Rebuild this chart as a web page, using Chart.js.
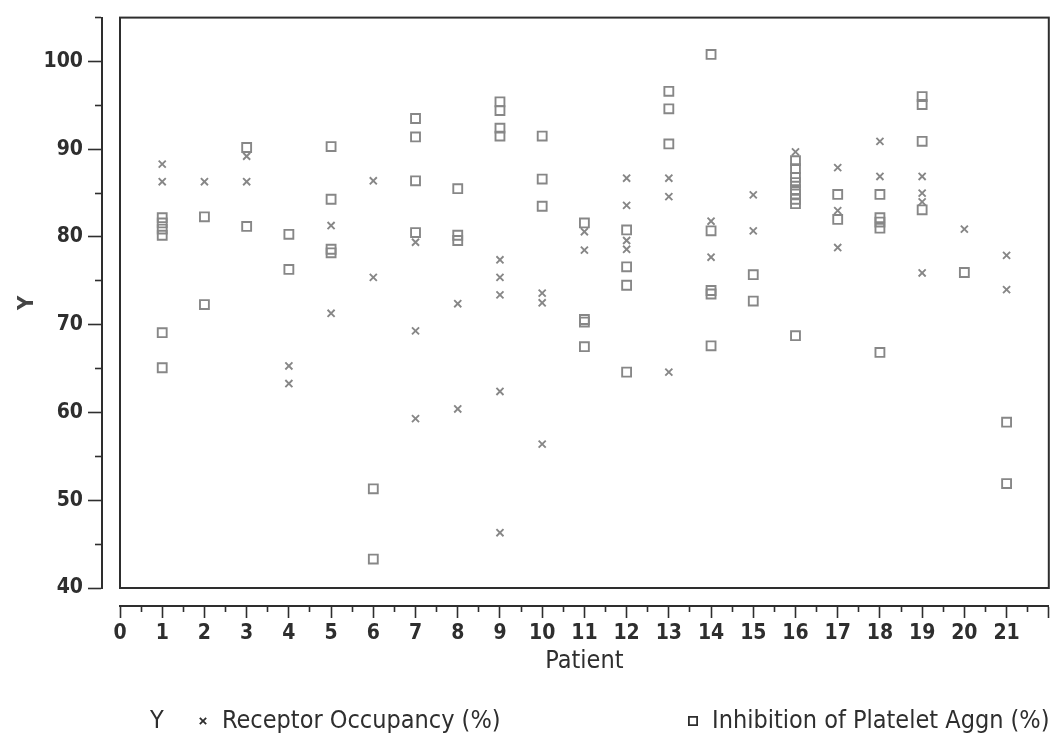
<!DOCTYPE html>
<html>
<head>
<meta charset="utf-8">
<title>Receptor occupancy and platelet inhibition by patient</title>
<script src="https://cdn.jsdelivr.net/npm/chart.js@4.4.1/dist/chart.umd.min.js"></script>
<style>
  html, body { margin: 0; padding: 0; background: #fff; }
  #wrap { width: 1057px; height: 744px; }
</style>
</head>
<body>
<div id="wrap"><canvas id="chart" width="1057" height="744"></canvas></div>
<script>
// Receptor Occupancy (%) readings, one entry per measurement
const occPatient = [1, 1, 2, 3, 3, 4, 4, 5, 5, 6, 6, 7, 7, 7, 8, 8,
  9, 9, 9, 9, 9, 10, 10, 10, 11, 11, 12, 12, 12, 12, 13, 13, 13,
  14, 14, 15, 15, 16, 17, 17, 17, 18, 18, 19, 19, 19, 19, 20, 21, 21];
const occValue = [88.3, 86.3, 86.3, 89.2, 86.3, 65.3, 63.3, 81.3, 71.3, 86.4, 75.4, 79.4, 69.3, 59.3, 72.4, 60.4,
  77.4, 75.4, 73.4, 62.4, 46.3, 73.6, 72.5, 56.4, 80.6, 78.5, 86.7, 83.6, 79.6, 78.6, 86.7, 84.6, 64.6,
  81.8, 77.7, 84.8, 80.7, 89.7, 87.9, 83.0, 78.8, 90.9, 86.9, 86.9, 85.0, 84.0, 75.9, 80.9, 77.9, 74.0];

// Inhibition of Platelet Aggregation (%) readings
const ipaPatient = [1, 1, 1, 1, 1, 1, 2, 2, 3, 3, 4, 4, 5, 5, 5, 5, 6, 6,
  7, 7, 7, 7, 8, 8, 8, 9, 9, 9, 9, 10, 10, 10, 11, 11, 11, 11,
  12, 12, 12, 12, 13, 13, 13, 14, 14, 14, 14, 14, 15, 15,
  16, 16, 16, 16, 16, 16, 16, 16, 16, 17, 17, 18, 18, 18, 18, 18,
  19, 19, 19, 19, 20, 21, 21];
const ipaValue = [82.2, 81.6, 80.9, 80.2, 69.1, 65.1, 82.3, 72.3, 90.2, 81.2, 80.3, 76.3, 90.3, 84.3, 78.6, 78.2, 51.3, 43.3,
  93.5, 91.4, 86.4, 80.5, 85.5, 80.2, 79.6, 95.4, 94.4, 92.4, 91.5, 91.5, 86.6, 83.5, 81.6, 70.6, 70.3, 67.5,
  80.8, 76.6, 74.5, 64.6, 96.6, 94.6, 90.6, 100.8, 80.7, 73.9, 73.5, 67.6, 75.7, 72.7,
  88.7, 87.8, 86.8, 86.2, 85.4, 84.9, 84.3, 83.8, 68.75, 84.85, 82.0, 84.85, 82.2, 81.7, 81.0, 66.85,
  96.0, 95.1, 90.9, 83.1, 75.95, 58.9, 51.9];

const seriesNames = ['Receptor Occupancy (%)', 'Inhibition of Platelet Aggn (%)'];
const yRange = [40, 105];
const xRange = [0, 22];
const lastPatient = 21;

const INK = '#2e2e2e';
const MARK = '#878787';
const textFont = '"DejaVu Sans Condensed", "DejaVu Sans", sans-serif';
const tickFont = { family: textFont, size: 21, weight: 'bold' };

const toPoints = (xs, ys) => xs.map((x, i) => ({ x, y: ys[i] }));

// axis lines sit a little outside the plot frame
const axisGap = {
  id: 'axisGap',
  afterLayout(chart) {
    chart.scales.y.right -= 18;
    chart.scales.x.top += 18;
  }
};

const plotFrame = {
  id: 'plotFrame',
  beforeDatasetsDraw(chart) {
    const { ctx, chartArea: a } = chart;
    ctx.save();
    ctx.strokeStyle = INK;
    ctx.lineWidth = 2;
    ctx.strokeRect(a.left, a.top, a.right - a.left, a.bottom - a.top);
    ctx.restore();
  }
};

// legend row under the axis title
const bottomLegend = {
  id: 'bottomLegend',
  afterDraw(chart) {
    const { ctx } = chart;
    const y = 721;
    const ds = chart.data.datasets;
    const items = [{ mx: 203, tx: 222 }, { mx: 693, tx: 712 }];
    ctx.save();
    ctx.textBaseline = 'middle';
    ctx.font = '25px ' + textFont;
    ctx.fillStyle = INK;
    ctx.fillText('Y', 150, y);
    items.forEach((it, i) => {
      ctx.lineWidth = 1.8;
      ctx.strokeStyle = INK;
      ctx.fillStyle = '#fff';
      Chart.helpers.drawPoint(ctx, {
        pointStyle: ds[i].pointStyle, radius: ds[i].pointRadius - 0.5, borderWidth: 1.8
      }, it.mx, y);
      ctx.fillStyle = INK;
      ctx.fillText(seriesNames[i], it.tx, y);
    });
    ctx.restore();
  }
};

new Chart(document.getElementById('chart'), {
  type: 'scatter',
  data: {
    datasets: [
      {
        label: seriesNames[0],
        data: toPoints(occPatient, occValue),
        pointStyle: 'crossRot',
        pointRadius: 5,
        borderColor: MARK,
        backgroundColor: MARK,
        borderWidth: 1.9
      },
      {
        label: seriesNames[1],
        data: toPoints(ipaPatient, ipaValue),
        pointStyle: 'rect',
        pointRadius: 6.3,
        borderColor: MARK,
        backgroundColor: 'rgba(255,255,255,0)',
        borderWidth: 1.9
      }
    ]
  },
  options: {
    responsive: false,
    animation: false,
    layout: { padding: { left: 0, right: 6, top: 15, bottom: 60 } },
    plugins: {
      legend: { display: false },
      tooltip: { enabled: false }
    },
    scales: {
      x: {
        type: 'linear',
        min: xRange[0],
        max: xRange[1],
        afterFit: s => { s.height = 96; },
        border: { color: INK, width: 2 },
        grid: {
          drawOnChartArea: false,
          tickLength: 12,
          tickColor: INK,
          tickWidth: 1.6,
          // half-step marks are drawn short
          tickBorderDash: ctx => (ctx.tick && ctx.tick.value % 1 !== 0 ? [5, 40] : [])
        },
        ticks: {
          stepSize: 0.5,
          autoSkip: false,
          maxRotation: 0,
          padding: 3,
          color: INK,
          font: tickFont,
          callback: v => (v % 1 === 0 && v <= lastPatient ? String(v) : '')
        },
        title: {
          display: true,
          text: 'Patient',
          color: INK,
          font: { family: textFont, size: 25 },
          padding: { top: 0, bottom: 8 }
        }
      },
      y: {
        type: 'linear',
        min: yRange[0],
        max: yRange[1],
        afterFit: s => { s.width = 120; },
        border: { color: INK, width: 2 },
        grid: {
          drawOnChartArea: false,
          tickLength: 14,
          tickColor: INK,
          tickWidth: 1.6,
          tickBorderDash: ctx => (ctx.tick && ctx.tick.value % 10 !== 0 ? [6, 30] : []),
          tickBorderDashOffset: ctx => (ctx.tick && ctx.tick.value % 10 !== 0 ? 29 : 0)
        },
        ticks: {
          stepSize: 5,
          autoSkip: false,
          padding: 5,
          color: INK,
          font: tickFont,
          callback: v => (v % 10 === 0 ? String(v) : '')
        },
        title: {
          display: true,
          text: 'Y',
          color: '#444',
          font: { family: textFont, size: 22, weight: 'bold' },
          padding: { top: 14, bottom: 0 }
        }
      }
    }
  },
  plugins: [axisGap, plotFrame, bottomLegend]
});
</script>
</body>
</html>
